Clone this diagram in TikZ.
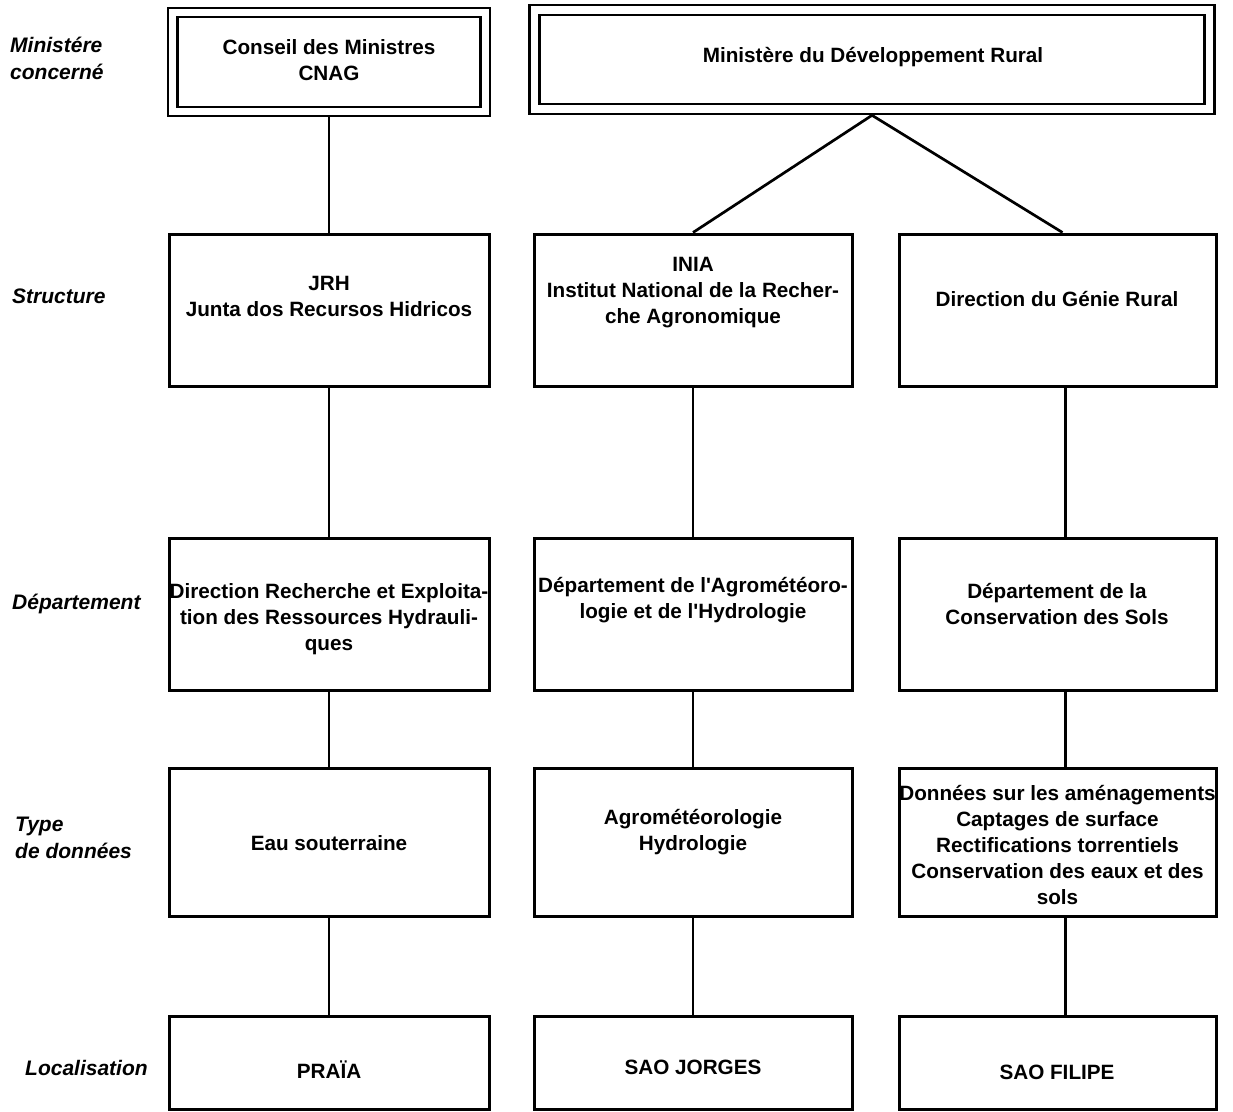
\documentclass[tikz,border=0pt]{standalone}
\usepackage{fontspec}
\setmainfont{Liberation Sans}
\begin{document}
\begin{tikzpicture}[x=1pt,y=-1pt,
  box/.style={draw, line width=3pt, inner sep=0pt},
  dbox/.style={draw, line width=2.6pt, inner sep=0pt},
  txt/.style={font=\bfseries\fontsize{20.7}{26}\selectfont, align=center, inner sep=0pt},
  lab/.style={font=\bfseries\itshape\fontsize{21}{26.5}\selectfont, align=left, inner sep=0pt, anchor=west},
  conn/.style={line width=2.7pt}]
\useasboundingbox[fill=white] (0,0) rectangle (1233,1111);

% row labels
\node[lab] (l1) at (10,58.5) {Ministére\\concerné};
\node[lab] (l2) at (12,296) {Structure};
\node[lab] (l3) at (12,604) {Département};
\node[lab] (l4) at (15,838) {Type\\de données};
\node[lab] (l5) at (25,1068) {Localisation};

% top double boxes
\node[dbox, minimum width=322pt, minimum height=108pt] (cons) at (329,62) {};
\node[dbox, minimum width=303pt, minimum height=90pt] (consin) at (329,62) {};
\node[txt] (const) at (329,60.5) {Conseil des Ministres\\CNAG};

\node[dbox, minimum width=685pt, minimum height=109pt] (min) at (872,59.5) {};
\node[dbox, minimum width=665pt, minimum height=89pt] (minin) at (872,59.5) {};
\node[txt] (mint) at (873,57) {Ministère du Développement Rural};

% structure row
\node[box, minimum width=320pt, minimum height=152pt] (jrh) at (329,310) {};
\node[box, minimum width=318pt, minimum height=152pt] (inia) at (693,310) {};
\node[box, minimum width=317pt, minimum height=152pt] (genie) at (1057.5,310) {};
\node[txt] (jrht) at (329,296) {JRH\\Junta dos Recursos Hidricos};
\node[txt] (iniat) at (693,293) {INIA\\Institut National de la Recher-\\che Agronomique};
\node[txt] (geniet) at (1057,299) {Direction du Génie Rural};

% department row
\node[box, minimum width=320pt, minimum height=152pt] (dir) at (329,614) {};
\node[box, minimum width=318pt, minimum height=152pt] (dagro) at (693,614) {};
\node[box, minimum width=317pt, minimum height=152pt] (dsols) at (1057.5,614) {};
\node[txt] (dirt) at (329,619) {Direction Recherche et Exploita-\\tion des Ressources Hydrauli-\\ques};
\node[txt] (dagrot) at (693,600) {Département de l\textquotesingle Agrométéoro-\\logie et de l\textquotesingle Hydrologie};
\node[txt] (dsolst) at (1057,604) {Département de la\\Conservation des Sols};

% data type row
\node[box, minimum width=320pt, minimum height=148pt] (eau) at (329,842) {};
\node[box, minimum width=318pt, minimum height=148pt] (agro) at (693,842) {};
\node[box, minimum width=317pt, minimum height=148pt] (don) at (1057.5,842) {};
\node[txt] (eaut) at (329,843) {Eau souterraine};
\node[txt] (agrot) at (693,832) {Agrométéorologie\\Hydrologie};
\node[txt] (dont) at (1057.5,845) {Données sur les aménagements\\Captages de surface\\Rectifications torrentiels\\Conservation des eaux et des\\sols};

% location row
\node[box, minimum width=320pt, minimum height=93pt] (praia) at (329,1062.5) {};
\node[box, minimum width=318pt, minimum height=93pt] (jorges) at (693,1062.5) {};
\node[box, minimum width=317pt, minimum height=93pt] (filipe) at (1057.5,1062.5) {};
\node[txt] (praiat) at (329,1070) {PRAÏA};
\node[txt] (jorgest) at (693,1067) {SAO JORGES};
\node[txt] (filipet) at (1057,1072) {SAO FILIPE};

% connectors
\draw[conn] (cons.south) -- (jrh.north);
\draw[conn] (min.south) -- (inia.north);
\draw[conn] (min.south) -- ([xshift=5pt]genie.north);
\draw[conn] (jrh.south) -- (dir.north);
\draw[conn] (dir.south) -- (eau.north);
\draw[conn] (eau.south) -- (praia.north);
\draw[conn] (inia.south) -- (dagro.north);
\draw[conn] (dagro.south) -- (agro.north);
\draw[conn] (agro.south) -- (jorges.north);
\draw[conn] ([xshift=8pt]genie.south) -- ([xshift=8pt]dsols.north);
\draw[conn] ([xshift=8pt]dsols.south) -- ([xshift=8pt]don.north);
\draw[conn] ([xshift=8pt]don.south) -- ([xshift=8pt]filipe.north);
\end{tikzpicture}
\end{document}
